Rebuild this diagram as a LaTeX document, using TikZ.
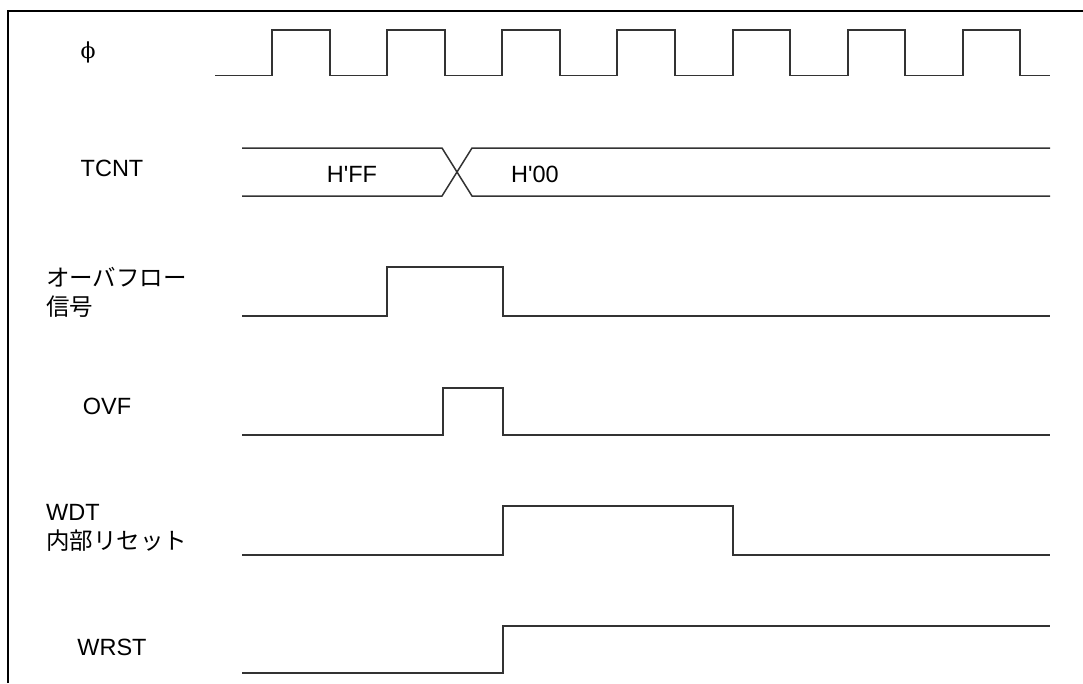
\documentclass[tikz,border=0pt]{standalone}
\usepackage{fontspec}
\setmainfont{Liberation Sans}[Ligatures=TeXOff]
\newfontfamily\jp{Noto Sans CJK JP}
\newfontfamily\grk{DejaVu Serif}
\begin{document}
\begin{tikzpicture}[x=1pt,y=-1pt,
  sig/.style={line width=1.5pt,draw=black!80,line join=miter},
  frame/.style={line width=2.6pt,draw=black},
  lbl/.style={inner sep=0pt,font=\fontsize{23.5}{28}\selectfont},
  jlbl/.style={inner sep=0pt,anchor=west,align=left,font=\fontsize{23.5}{29}\selectfont\jp}]
\useasboundingbox (0,0) rectangle (1083,683);
% frame
\draw[frame] (8,683) -- (8,11) -- (1083,11);
% labels
\node[lbl,font=\fontsize{22}{28}\selectfont\grk] (phi) at (88,52) {ϕ};
\node[lbl] (tcnt) at (112,168) {TCNT};
\node[lbl] (hff) at (352,174) {H'FF};
\node[lbl] (h00) at (535,174) {H'00};
\node[jlbl] (ovs) at (46,292) {オーバフロー\\信号};
\node[lbl] (ovf) at (107,406) {OVF};
\node[jlbl] (wdt) at (46,528) {\fontspec{Liberation Sans}[Ligatures=TeXOff]\fontsize{23.5}{29}\selectfont WDT\\内部リセット};
\node[lbl] (wrst) at (112,647) {WRST};
% clock
\draw[sig] (215,75.5) -- (272,75.5) -- (272,30) -- (330,30) -- (330,75.5)
  -- (387,75.5) -- (387,30) -- (445,30) -- (445,75.5)
  -- (502,75.5) -- (502,30) -- (560,30) -- (560,75.5)
  -- (617,75.5) -- (617,30) -- (675,30) -- (675,75.5)
  -- (733,75.5) -- (733,30) -- (790,30) -- (790,75.5)
  -- (848,75.5) -- (848,30) -- (905,30) -- (905,75.5)
  -- (963,75.5) -- (963,30) -- (1020,30) -- (1020,75.5) -- (1050,75.5);
% TCNT bus
\draw[sig] (242,148) -- (442,148) -- (472,196) -- (1050,196);
\draw[sig] (242,196) -- (442,196) -- (472,148) -- (1050,148);
% overflow signal
\draw[sig] (242,316) -- (387,316) -- (387,267) -- (503,267) -- (503,316) -- (1050,316);
% OVF
\draw[sig] (242,435) -- (443,435) -- (443,388) -- (503,388) -- (503,435) -- (1050,435);
% WDT internal reset
\draw[sig] (242,555) -- (503,555) -- (503,506) -- (733,506) -- (733,555) -- (1050,555);
% WRST
\draw[sig] (242,673) -- (503,673) -- (503,626) -- (1050,626);
\end{tikzpicture}
\end{document}
